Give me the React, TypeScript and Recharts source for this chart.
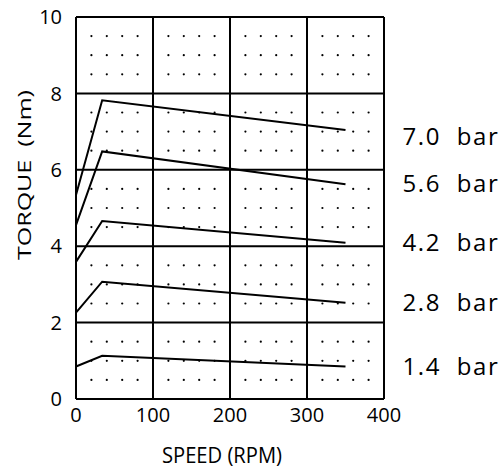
import React from 'react';
import {
  ComposedChart, Line, Scatter, XAxis, YAxis, CartesianGrid, LabelList,
} from 'recharts';

const FONT = '"Open Sans", sans-serif';

// speed (rpm) breakpoints shared by every curve
const speeds = [0, 34, 350];

// torque (Nm) at each breakpoint, per supply pressure
const torque70 = [5.34, 7.82, 7.04];
const torque56 = [4.55, 6.48, 5.62];
const torque42 = [3.59, 4.66, 4.09];
const torque28 = [2.26, 3.07, 2.52];
const torque14 = [0.85, 1.13, 0.85];

const pressureLabels = ['7.0  bar', '5.6  bar', '4.2  bar', '2.8  bar', '1.4  bar'];
const labelNudge = [6, -1, 0, 0, 0];

const xTicks = [0, 100, 200, 300, 400];
const yTicks = [0, 2, 4, 6, 8, 10];

// positions of the dotted pattern inside the grid cells
const dotSpeeds = [20, 40, 60, 80, 120, 140, 160, 180, 220, 240, 260, 280, 320, 340, 360, 380];
const dotTorques = [0.5, 1, 1.5, 2.5, 3, 3.5, 4.5, 5, 5.5, 6.5, 7, 7.5, 8.5, 9, 9.5];

const curves = [torque70, torque56, torque42, torque28, torque14].map((vals, i) => ({
  label: pressureLabels[i],
  nudge: labelNudge[i],
  data: speeds.map((s, j) => ({ x: s, y: vals[j] })),
}));

const dots = dotSpeeds.flatMap((x) => dotTorques.map((y) => ({ x, y })));

const tickStyle = { fontFamily: FONT, fontSize: 20, fill: '#000' };

export default function App() {
  return (
    <div style={{ position: 'absolute', left: 0, top: 0, background: '#fff', fontFamily: FONT }}>
      <ComposedChart
        width={501}
        height={468}
        margin={{ top: 17, right: 117, bottom: 0, left: 0 }}
      >
        <CartesianGrid stroke="#000" strokeWidth={2} fill="none" />
        <XAxis
          type="number"
          dataKey="x"
          domain={[0, 400]}
          ticks={xTicks}
          height={69}
          axisLine={{ stroke: '#000', strokeWidth: 2 }}
          tickLine={false}
          tickSize={6}
          tickMargin={3}
          tick={tickStyle}
          interval={0}
          allowDuplicatedCategory={false}
        />
        <YAxis
          type="number"
          dataKey="y"
          domain={[0, 10]}
          ticks={yTicks}
          width={76}
          axisLine={{ stroke: '#000', strokeWidth: 2 }}
          tickLine={false}
          tickSize={6}
          tickMargin={8}
          tick={tickStyle}
          interval={0}
        />
        <Scatter
          data={dots}
          dataKey="y"
          isAnimationActive={false}
          shape={(p: any) => <circle cx={p.cx} cy={p.cy} r={1.1} fill="#000" />}
        />
        {curves.map((c) => (
          <Line
            key={c.label}
            data={c.data}
            dataKey="y"
            type="linear"
            stroke="#000"
            strokeWidth={2}
            dot={false}
            activeDot={false}
            isAnimationActive={false}
          >
            <LabelList
              dataKey="y"
              content={(p: any) =>
                p.index === c.data.length - 1 ? (
                  <text
                    x={p.x + 57}
                    y={p.y + 8.5 + c.nudge}
                    fontFamily={FONT}
                    fontSize={24}
                    letterSpacing={1.6}
                    fill="#000"
                    style={{ whiteSpace: 'pre' }}
                  >
                    {c.label}
                  </text>
                ) : null
              }
            />
          </Line>
        ))}
        <text
          x={222}
          y={463}
          textAnchor="middle"
          fontFamily={FONT}
          fontSize={21}
          textLength={120}
          lengthAdjust="spacingAndGlyphs"
          fill="#000"
        >
          SPEED (RPM)
        </text>
        <text
          x={31}
          y={175}
          transform="rotate(-90 31 175)"
          textAnchor="middle"
          fontFamily={FONT}
          fontSize={18}
          textLength={170}
          lengthAdjust="spacingAndGlyphs"
          fill="#000"
          style={{ whiteSpace: 'pre' }}
        >
          TORQUE  (Nm)
        </text>
      </ComposedChart>
    </div>
  );
}
